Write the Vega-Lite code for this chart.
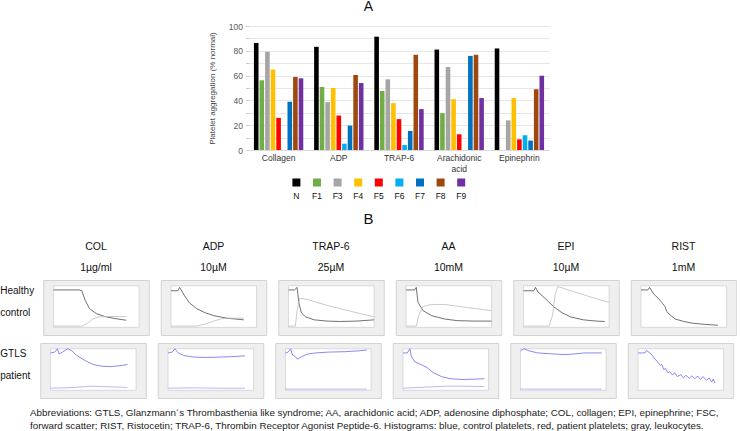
{
  "$schema": "https://vega.github.io/schema/vega-lite/v6.json",
  "padding": 0,
  "background": "white",
  "config": {"view": {"stroke": null}, "font": "Liberation Sans", "title": {"font": "Liberation Sans"}},
  "datasets": {
    "bars": [
      {"agonist": "Collagen", "series": "N", "value": 86.2},
      {"agonist": "Collagen", "series": "F1", "value": 56.2},
      {"agonist": "Collagen", "series": "F3", "value": 79.2},
      {"agonist": "Collagen", "series": "F4", "value": 64.9},
      {"agonist": "Collagen", "series": "F5", "value": 25.9},
      {"agonist": "Collagen", "series": "F6", "value": 0},
      {"agonist": "Collagen", "series": "F7", "value": 38.9},
      {"agonist": "Collagen", "series": "F8", "value": 58.9},
      {"agonist": "Collagen", "series": "F9", "value": 57.8},
      {"agonist": "ADP", "series": "N", "value": 83.2},
      {"agonist": "ADP", "series": "F1", "value": 50.8},
      {"agonist": "ADP", "series": "F3", "value": 38.6},
      {"agonist": "ADP", "series": "F4", "value": 50.0},
      {"agonist": "ADP", "series": "F5", "value": 27.8},
      {"agonist": "ADP", "series": "F6", "value": 5.1},
      {"agonist": "ADP", "series": "F7", "value": 19.7},
      {"agonist": "ADP", "series": "F8", "value": 60.5},
      {"agonist": "ADP", "series": "F9", "value": 54.0},
      {"agonist": "TRAP-6", "series": "N", "value": 91.4},
      {"agonist": "TRAP-6", "series": "F1", "value": 47.6},
      {"agonist": "TRAP-6", "series": "F3", "value": 57.0},
      {"agonist": "TRAP-6", "series": "F4", "value": 37.8},
      {"agonist": "TRAP-6", "series": "F5", "value": 24.9},
      {"agonist": "TRAP-6", "series": "F6", "value": 4.0},
      {"agonist": "TRAP-6", "series": "F7", "value": 15.4},
      {"agonist": "TRAP-6", "series": "F8", "value": 76.8},
      {"agonist": "TRAP-6", "series": "F9", "value": 33.0},
      {"agonist": "Arachidonic acid", "series": "N", "value": 81.0},
      {"agonist": "Arachidonic acid", "series": "F1", "value": 29.7},
      {"agonist": "Arachidonic acid", "series": "F3", "value": 66.9},
      {"agonist": "Arachidonic acid", "series": "F4", "value": 41.0},
      {"agonist": "Arachidonic acid", "series": "F5", "value": 12.7},
      {"agonist": "Arachidonic acid", "series": "F6", "value": 0},
      {"agonist": "Arachidonic acid", "series": "F7", "value": 75.9},
      {"agonist": "Arachidonic acid", "series": "F8", "value": 76.8},
      {"agonist": "Arachidonic acid", "series": "F9", "value": 41.9},
      {"agonist": "Epinephrin", "series": "N", "value": 81.9},
      {"agonist": "Epinephrin", "series": "F1", "value": 0},
      {"agonist": "Epinephrin", "series": "F3", "value": 23.9},
      {"agonist": "Epinephrin", "series": "F4", "value": 41.9},
      {"agonist": "Epinephrin", "series": "F5", "value": 8.6},
      {"agonist": "Epinephrin", "series": "F6", "value": 11.9},
      {"agonist": "Epinephrin", "series": "F7", "value": 7.6},
      {"agonist": "Epinephrin", "series": "F8", "value": 49.0},
      {"agonist": "Epinephrin", "series": "F9", "value": 59.9}
    ],
    "curves": [
      {"a": "COL|1µg/ml", "g": "H", "s": "hm", "t": 0, "v": 0.9},
      {"a": "COL|1µg/ml", "g": "H", "s": "hm", "t": 0.3, "v": 0.9},
      {"a": "COL|1µg/ml", "g": "H", "s": "hm", "t": 0.33, "v": 0.88},
      {"a": "COL|1µg/ml", "g": "H", "s": "hm", "t": 0.37, "v": 0.65},
      {"a": "COL|1µg/ml", "g": "H", "s": "hm", "t": 0.42, "v": 0.45},
      {"a": "COL|1µg/ml", "g": "H", "s": "hm", "t": 0.5, "v": 0.33},
      {"a": "COL|1µg/ml", "g": "H", "s": "hm", "t": 0.6, "v": 0.26},
      {"a": "COL|1µg/ml", "g": "H", "s": "hm", "t": 0.72, "v": 0.21},
      {"a": "COL|1µg/ml", "g": "H", "s": "hm", "t": 0.85, "v": 0.17},
      {"a": "COL|1µg/ml", "g": "H", "s": "hs", "t": 0, "v": 0.03},
      {"a": "COL|1µg/ml", "g": "H", "s": "hs", "t": 0.33, "v": 0.03},
      {"a": "COL|1µg/ml", "g": "H", "s": "hs", "t": 0.4, "v": 0.1},
      {"a": "COL|1µg/ml", "g": "H", "s": "hs", "t": 0.46, "v": 0.2},
      {"a": "COL|1µg/ml", "g": "H", "s": "hs", "t": 0.53, "v": 0.25},
      {"a": "COL|1µg/ml", "g": "H", "s": "hs", "t": 0.65, "v": 0.26},
      {"a": "COL|1µg/ml", "g": "H", "s": "hs", "t": 0.85, "v": 0.26},
      {"a": "ADP|10µM", "g": "H", "s": "hm", "t": 0, "v": 0.88},
      {"a": "ADP|10µM", "g": "H", "s": "hm", "t": 0.08, "v": 0.88},
      {"a": "ADP|10µM", "g": "H", "s": "hm", "t": 0.1, "v": 0.96},
      {"a": "ADP|10µM", "g": "H", "s": "hm", "t": 0.12, "v": 0.9},
      {"a": "ADP|10µM", "g": "H", "s": "hm", "t": 0.16, "v": 0.75},
      {"a": "ADP|10µM", "g": "H", "s": "hm", "t": 0.22, "v": 0.58},
      {"a": "ADP|10µM", "g": "H", "s": "hm", "t": 0.3, "v": 0.45},
      {"a": "ADP|10µM", "g": "H", "s": "hm", "t": 0.4, "v": 0.35},
      {"a": "ADP|10µM", "g": "H", "s": "hm", "t": 0.5, "v": 0.28},
      {"a": "ADP|10µM", "g": "H", "s": "hm", "t": 0.65, "v": 0.22},
      {"a": "ADP|10µM", "g": "H", "s": "hm", "t": 0.85, "v": 0.18},
      {"a": "ADP|10µM", "g": "H", "s": "hs", "t": 0, "v": 0.03},
      {"a": "ADP|10µM", "g": "H", "s": "hs", "t": 0.3, "v": 0.03},
      {"a": "ADP|10µM", "g": "H", "s": "hs", "t": 0.4, "v": 0.08},
      {"a": "ADP|10µM", "g": "H", "s": "hs", "t": 0.5, "v": 0.15},
      {"a": "ADP|10µM", "g": "H", "s": "hs", "t": 0.58, "v": 0.2},
      {"a": "ADP|10µM", "g": "H", "s": "hs", "t": 0.65, "v": 0.22},
      {"a": "ADP|10µM", "g": "H", "s": "hs", "t": 0.85, "v": 0.22},
      {"a": "TRAP-6|25µM", "g": "H", "s": "hm", "t": 0, "v": 0.9},
      {"a": "TRAP-6|25µM", "g": "H", "s": "hm", "t": 0.07, "v": 0.9},
      {"a": "TRAP-6|25µM", "g": "H", "s": "hm", "t": 0.1, "v": 0.96},
      {"a": "TRAP-6|25µM", "g": "H", "s": "hm", "t": 0.12, "v": 0.6},
      {"a": "TRAP-6|25µM", "g": "H", "s": "hm", "t": 0.15, "v": 0.35},
      {"a": "TRAP-6|25µM", "g": "H", "s": "hm", "t": 0.2, "v": 0.25},
      {"a": "TRAP-6|25µM", "g": "H", "s": "hm", "t": 0.3, "v": 0.18},
      {"a": "TRAP-6|25µM", "g": "H", "s": "hm", "t": 0.45, "v": 0.15},
      {"a": "TRAP-6|25µM", "g": "H", "s": "hm", "t": 0.6, "v": 0.14},
      {"a": "TRAP-6|25µM", "g": "H", "s": "hm", "t": 0.8, "v": 0.15},
      {"a": "TRAP-6|25µM", "g": "H", "s": "hm", "t": 1, "v": 0.18},
      {"a": "TRAP-6|25µM", "g": "H", "s": "hs", "t": 0, "v": 0.03},
      {"a": "TRAP-6|25µM", "g": "H", "s": "hs", "t": 0.08, "v": 0.03},
      {"a": "TRAP-6|25µM", "g": "H", "s": "hs", "t": 0.1, "v": 0.4},
      {"a": "TRAP-6|25µM", "g": "H", "s": "hs", "t": 0.13, "v": 0.7},
      {"a": "TRAP-6|25µM", "g": "H", "s": "hs", "t": 0.2, "v": 0.68},
      {"a": "TRAP-6|25µM", "g": "H", "s": "hs", "t": 0.5, "v": 0.5},
      {"a": "TRAP-6|25µM", "g": "H", "s": "hs", "t": 0.8, "v": 0.35},
      {"a": "TRAP-6|25µM", "g": "H", "s": "hs", "t": 1, "v": 0.25},
      {"a": "AA|10mM", "g": "H", "s": "hm", "t": 0, "v": 0.9},
      {"a": "AA|10mM", "g": "H", "s": "hm", "t": 0.1, "v": 0.9},
      {"a": "AA|10mM", "g": "H", "s": "hm", "t": 0.12, "v": 0.96},
      {"a": "AA|10mM", "g": "H", "s": "hm", "t": 0.14, "v": 0.6},
      {"a": "AA|10mM", "g": "H", "s": "hm", "t": 0.2, "v": 0.4},
      {"a": "AA|10mM", "g": "H", "s": "hm", "t": 0.3, "v": 0.28},
      {"a": "AA|10mM", "g": "H", "s": "hm", "t": 0.45, "v": 0.2},
      {"a": "AA|10mM", "g": "H", "s": "hm", "t": 0.6, "v": 0.16},
      {"a": "AA|10mM", "g": "H", "s": "hm", "t": 0.8, "v": 0.15},
      {"a": "AA|10mM", "g": "H", "s": "hm", "t": 1, "v": 0.15},
      {"a": "AA|10mM", "g": "H", "s": "hs", "t": 0, "v": 0.03},
      {"a": "AA|10mM", "g": "H", "s": "hs", "t": 0.12, "v": 0.03},
      {"a": "AA|10mM", "g": "H", "s": "hs", "t": 0.15, "v": 0.3},
      {"a": "AA|10mM", "g": "H", "s": "hs", "t": 0.2, "v": 0.5},
      {"a": "AA|10mM", "g": "H", "s": "hs", "t": 0.3, "v": 0.55},
      {"a": "AA|10mM", "g": "H", "s": "hs", "t": 0.45, "v": 0.55},
      {"a": "AA|10mM", "g": "H", "s": "hs", "t": 0.7, "v": 0.48},
      {"a": "AA|10mM", "g": "H", "s": "hs", "t": 1, "v": 0.4},
      {"a": "EPI|10µM", "g": "H", "s": "hm", "t": 0, "v": 0.88},
      {"a": "EPI|10µM", "g": "H", "s": "hm", "t": 0.12, "v": 0.88},
      {"a": "EPI|10µM", "g": "H", "s": "hm", "t": 0.14, "v": 0.96},
      {"a": "EPI|10µM", "g": "H", "s": "hm", "t": 0.17, "v": 0.85},
      {"a": "EPI|10µM", "g": "H", "s": "hm", "t": 0.25, "v": 0.7},
      {"a": "EPI|10µM", "g": "H", "s": "hm", "t": 0.35, "v": 0.5},
      {"a": "EPI|10µM", "g": "H", "s": "hm", "t": 0.45, "v": 0.35},
      {"a": "EPI|10µM", "g": "H", "s": "hm", "t": 0.55, "v": 0.25},
      {"a": "EPI|10µM", "g": "H", "s": "hm", "t": 0.7, "v": 0.18},
      {"a": "EPI|10µM", "g": "H", "s": "hm", "t": 0.85, "v": 0.15},
      {"a": "EPI|10µM", "g": "H", "s": "hm", "t": 0.95, "v": 0.14},
      {"a": "EPI|10µM", "g": "H", "s": "hs", "t": 0, "v": 0.03},
      {"a": "EPI|10µM", "g": "H", "s": "hs", "t": 0.3, "v": 0.03},
      {"a": "EPI|10µM", "g": "H", "s": "hs", "t": 0.34, "v": 0.3},
      {"a": "EPI|10µM", "g": "H", "s": "hs", "t": 0.37, "v": 0.8},
      {"a": "EPI|10µM", "g": "H", "s": "hs", "t": 0.4, "v": 0.98},
      {"a": "EPI|10µM", "g": "H", "s": "hs", "t": 0.6, "v": 0.85},
      {"a": "EPI|10µM", "g": "H", "s": "hs", "t": 0.8, "v": 0.72},
      {"a": "EPI|10µM", "g": "H", "s": "hs", "t": 1, "v": 0.6},
      {"a": "RIST|1mM", "g": "H", "s": "hm", "t": 0, "v": 0.9},
      {"a": "RIST|1mM", "g": "H", "s": "hm", "t": 0.08, "v": 0.9},
      {"a": "RIST|1mM", "g": "H", "s": "hm", "t": 0.1, "v": 0.96},
      {"a": "RIST|1mM", "g": "H", "s": "hm", "t": 0.15, "v": 0.8},
      {"a": "RIST|1mM", "g": "H", "s": "hm", "t": 0.2, "v": 0.7},
      {"a": "RIST|1mM", "g": "H", "s": "hm", "t": 0.25, "v": 0.58},
      {"a": "RIST|1mM", "g": "H", "s": "hm", "t": 0.28, "v": 0.5},
      {"a": "RIST|1mM", "g": "H", "s": "hm", "t": 0.3, "v": 0.38},
      {"a": "RIST|1mM", "g": "H", "s": "hm", "t": 0.35, "v": 0.28},
      {"a": "RIST|1mM", "g": "H", "s": "hm", "t": 0.4, "v": 0.2},
      {"a": "RIST|1mM", "g": "H", "s": "hm", "t": 0.5, "v": 0.14},
      {"a": "RIST|1mM", "g": "H", "s": "hm", "t": 0.6, "v": 0.1},
      {"a": "RIST|1mM", "g": "H", "s": "hm", "t": 0.75, "v": 0.07},
      {"a": "RIST|1mM", "g": "H", "s": "hm", "t": 0.9, "v": 0.05},
      {"a": "COL|1µg/ml", "g": "P", "s": "pm", "t": 0, "v": 0.9},
      {"a": "COL|1µg/ml", "g": "P", "s": "pm", "t": 0.05, "v": 0.92},
      {"a": "COL|1µg/ml", "g": "P", "s": "pm", "t": 0.08, "v": 1.0},
      {"a": "COL|1µg/ml", "g": "P", "s": "pm", "t": 0.1, "v": 0.88},
      {"a": "COL|1µg/ml", "g": "P", "s": "pm", "t": 0.14, "v": 0.92},
      {"a": "COL|1µg/ml", "g": "P", "s": "pm", "t": 0.2, "v": 1.0},
      {"a": "COL|1µg/ml", "g": "P", "s": "pm", "t": 0.25, "v": 0.95},
      {"a": "COL|1µg/ml", "g": "P", "s": "pm", "t": 0.3, "v": 0.85},
      {"a": "COL|1µg/ml", "g": "P", "s": "pm", "t": 0.4, "v": 0.72},
      {"a": "COL|1µg/ml", "g": "P", "s": "pm", "t": 0.5, "v": 0.62},
      {"a": "COL|1µg/ml", "g": "P", "s": "pm", "t": 0.6, "v": 0.58},
      {"a": "COL|1µg/ml", "g": "P", "s": "pm", "t": 0.7, "v": 0.57},
      {"a": "COL|1µg/ml", "g": "P", "s": "pm", "t": 0.8, "v": 0.59},
      {"a": "COL|1µg/ml", "g": "P", "s": "pm", "t": 0.9, "v": 0.62},
      {"a": "COL|1µg/ml", "g": "P", "s": "ps", "t": 0, "v": 0.05},
      {"a": "COL|1µg/ml", "g": "P", "s": "ps", "t": 0.3, "v": 0.07},
      {"a": "COL|1µg/ml", "g": "P", "s": "ps", "t": 0.45, "v": 0.1},
      {"a": "COL|1µg/ml", "g": "P", "s": "ps", "t": 0.6, "v": 0.09},
      {"a": "COL|1µg/ml", "g": "P", "s": "ps", "t": 0.9, "v": 0.07},
      {"a": "ADP|10µM", "g": "P", "s": "pm", "t": 0, "v": 0.9},
      {"a": "ADP|10µM", "g": "P", "s": "pm", "t": 0.05, "v": 0.92},
      {"a": "ADP|10µM", "g": "P", "s": "pm", "t": 0.08, "v": 1.0},
      {"a": "ADP|10µM", "g": "P", "s": "pm", "t": 0.12, "v": 0.9},
      {"a": "ADP|10µM", "g": "P", "s": "pm", "t": 0.18, "v": 0.84},
      {"a": "ADP|10µM", "g": "P", "s": "pm", "t": 0.3, "v": 0.8},
      {"a": "ADP|10µM", "g": "P", "s": "pm", "t": 0.45, "v": 0.79},
      {"a": "ADP|10µM", "g": "P", "s": "pm", "t": 0.6, "v": 0.8},
      {"a": "ADP|10µM", "g": "P", "s": "pm", "t": 0.75, "v": 0.81},
      {"a": "ADP|10µM", "g": "P", "s": "pm", "t": 0.9, "v": 0.83},
      {"a": "ADP|10µM", "g": "P", "s": "ps", "t": 0, "v": 0.05},
      {"a": "ADP|10µM", "g": "P", "s": "ps", "t": 0.3, "v": 0.06},
      {"a": "ADP|10µM", "g": "P", "s": "ps", "t": 0.6, "v": 0.05},
      {"a": "ADP|10µM", "g": "P", "s": "ps", "t": 0.9, "v": 0.05},
      {"a": "TRAP-6|25µM", "g": "P", "s": "pm", "t": 0, "v": 0.9},
      {"a": "TRAP-6|25µM", "g": "P", "s": "pm", "t": 0.03, "v": 0.92},
      {"a": "TRAP-6|25µM", "g": "P", "s": "pm", "t": 0.06, "v": 1.0},
      {"a": "TRAP-6|25µM", "g": "P", "s": "pm", "t": 0.08, "v": 0.85},
      {"a": "TRAP-6|25µM", "g": "P", "s": "pm", "t": 0.11, "v": 0.82},
      {"a": "TRAP-6|25µM", "g": "P", "s": "pm", "t": 0.14, "v": 0.75},
      {"a": "TRAP-6|25µM", "g": "P", "s": "pm", "t": 0.18, "v": 0.8},
      {"a": "TRAP-6|25µM", "g": "P", "s": "pm", "t": 0.25, "v": 0.87},
      {"a": "TRAP-6|25µM", "g": "P", "s": "pm", "t": 0.35, "v": 0.9},
      {"a": "TRAP-6|25µM", "g": "P", "s": "pm", "t": 0.5, "v": 0.92},
      {"a": "TRAP-6|25µM", "g": "P", "s": "pm", "t": 0.7, "v": 0.93},
      {"a": "TRAP-6|25µM", "g": "P", "s": "pm", "t": 0.85, "v": 0.95},
      {"a": "TRAP-6|25µM", "g": "P", "s": "pm", "t": 0.95, "v": 0.97},
      {"a": "TRAP-6|25µM", "g": "P", "s": "ps", "t": 0, "v": 0.03},
      {"a": "TRAP-6|25µM", "g": "P", "s": "ps", "t": 0.5, "v": 0.03},
      {"a": "TRAP-6|25µM", "g": "P", "s": "ps", "t": 0.95, "v": 0.03},
      {"a": "AA|10mM", "g": "P", "s": "pm", "t": 0, "v": 0.9},
      {"a": "AA|10mM", "g": "P", "s": "pm", "t": 0.05, "v": 0.9},
      {"a": "AA|10mM", "g": "P", "s": "pm", "t": 0.08, "v": 1.0},
      {"a": "AA|10mM", "g": "P", "s": "pm", "t": 0.1, "v": 0.8},
      {"a": "AA|10mM", "g": "P", "s": "pm", "t": 0.14, "v": 0.68},
      {"a": "AA|10mM", "g": "P", "s": "pm", "t": 0.2, "v": 0.63},
      {"a": "AA|10mM", "g": "P", "s": "pm", "t": 0.28, "v": 0.55},
      {"a": "AA|10mM", "g": "P", "s": "pm", "t": 0.35, "v": 0.43},
      {"a": "AA|10mM", "g": "P", "s": "pm", "t": 0.45, "v": 0.33},
      {"a": "AA|10mM", "g": "P", "s": "pm", "t": 0.55, "v": 0.28},
      {"a": "AA|10mM", "g": "P", "s": "pm", "t": 0.7, "v": 0.26},
      {"a": "AA|10mM", "g": "P", "s": "pm", "t": 0.85, "v": 0.27},
      {"a": "AA|10mM", "g": "P", "s": "pm", "t": 0.95, "v": 0.28},
      {"a": "AA|10mM", "g": "P", "s": "ps", "t": 0, "v": 0.05},
      {"a": "AA|10mM", "g": "P", "s": "ps", "t": 0.3, "v": 0.08},
      {"a": "AA|10mM", "g": "P", "s": "ps", "t": 0.5, "v": 0.1},
      {"a": "AA|10mM", "g": "P", "s": "ps", "t": 0.7, "v": 0.1},
      {"a": "AA|10mM", "g": "P", "s": "ps", "t": 0.95, "v": 0.09},
      {"a": "EPI|10µM", "g": "P", "s": "pm", "t": 0, "v": 0.95},
      {"a": "EPI|10µM", "g": "P", "s": "pm", "t": 0.04, "v": 1.0},
      {"a": "EPI|10µM", "g": "P", "s": "pm", "t": 0.1, "v": 0.95},
      {"a": "EPI|10µM", "g": "P", "s": "pm", "t": 0.2, "v": 0.9},
      {"a": "EPI|10µM", "g": "P", "s": "pm", "t": 0.35, "v": 0.88},
      {"a": "EPI|10µM", "g": "P", "s": "pm", "t": 0.5, "v": 0.86},
      {"a": "EPI|10µM", "g": "P", "s": "pm", "t": 0.6, "v": 0.87},
      {"a": "EPI|10µM", "g": "P", "s": "pm", "t": 0.75, "v": 0.9},
      {"a": "EPI|10µM", "g": "P", "s": "pm", "t": 0.95, "v": 0.9},
      {"a": "EPI|10µM", "g": "P", "s": "ps", "t": 0, "v": 0.03},
      {"a": "EPI|10µM", "g": "P", "s": "ps", "t": 0.5, "v": 0.03},
      {"a": "EPI|10µM", "g": "P", "s": "ps", "t": 0.95, "v": 0.03},
      {"a": "RIST|1mM", "g": "P", "s": "pm", "t": 0, "v": 0.9},
      {"a": "RIST|1mM", "g": "P", "s": "pm", "t": 0.08, "v": 0.9},
      {"a": "RIST|1mM", "g": "P", "s": "pm", "t": 0.1, "v": 0.96},
      {"a": "RIST|1mM", "g": "P", "s": "pm", "t": 0.15, "v": 0.88},
      {"a": "RIST|1mM", "g": "P", "s": "pm", "t": 0.2, "v": 0.75},
      {"a": "RIST|1mM", "g": "P", "s": "pm", "t": 0.23, "v": 0.68},
      {"a": "RIST|1mM", "g": "P", "s": "pm", "t": 0.26, "v": 0.6},
      {"a": "RIST|1mM", "g": "P", "s": "pm", "t": 0.28, "v": 0.62},
      {"a": "RIST|1mM", "g": "P", "s": "pm", "t": 0.3, "v": 0.5},
      {"a": "RIST|1mM", "g": "P", "s": "pm", "t": 0.32, "v": 0.53},
      {"a": "RIST|1mM", "g": "P", "s": "pm", "t": 0.35, "v": 0.42},
      {"a": "RIST|1mM", "g": "P", "s": "pm", "t": 0.37, "v": 0.45},
      {"a": "RIST|1mM", "g": "P", "s": "pm", "t": 0.4, "v": 0.37},
      {"a": "RIST|1mM", "g": "P", "s": "pm", "t": 0.43, "v": 0.42},
      {"a": "RIST|1mM", "g": "P", "s": "pm", "t": 0.46, "v": 0.33},
      {"a": "RIST|1mM", "g": "P", "s": "pm", "t": 0.5, "v": 0.38},
      {"a": "RIST|1mM", "g": "P", "s": "pm", "t": 0.53, "v": 0.3},
      {"a": "RIST|1mM", "g": "P", "s": "pm", "t": 0.56, "v": 0.36},
      {"a": "RIST|1mM", "g": "P", "s": "pm", "t": 0.6, "v": 0.29},
      {"a": "RIST|1mM", "g": "P", "s": "pm", "t": 0.63, "v": 0.35},
      {"a": "RIST|1mM", "g": "P", "s": "pm", "t": 0.66, "v": 0.28},
      {"a": "RIST|1mM", "g": "P", "s": "pm", "t": 0.7, "v": 0.34},
      {"a": "RIST|1mM", "g": "P", "s": "pm", "t": 0.73, "v": 0.26},
      {"a": "RIST|1mM", "g": "P", "s": "pm", "t": 0.76, "v": 0.33},
      {"a": "RIST|1mM", "g": "P", "s": "pm", "t": 0.8, "v": 0.24},
      {"a": "RIST|1mM", "g": "P", "s": "pm", "t": 0.83, "v": 0.3},
      {"a": "RIST|1mM", "g": "P", "s": "pm", "t": 0.86, "v": 0.2},
      {"a": "RIST|1mM", "g": "P", "s": "pm", "t": 0.88, "v": 0.27},
      {"a": "RIST|1mM", "g": "P", "s": "pm", "t": 0.9, "v": 0.18}
    ]
  },
  "title": {
    "text": [
      "Abbreviations: GTLS, Glanzmann´s Thrombasthenia like syndrome; AA, arachidonic acid; ADP, adenosine diphosphate; COL, collagen; EPI, epinephrine; FSC,",
      "forward scatter; RIST, Ristocetin; TRAP-6, Thrombin Receptor Agonist Peptide-6. Histograms: blue, control platelets, red, patient platelets; gray, leukocytes."
    ],
    "orient": "bottom",
    "anchor": "start",
    "dx": 30,
    "fontSize": 9.8,
    "fontWeight": "normal",
    "lineHeight": 13,
    "offset": 9,
    "color": "#1a1a1a"
  },
  "spacing": 11,
  "center": true,
  "vconcat": [
    {
      "title": {"text": "A", "fontSize": 14, "fontWeight": "normal", "offset": 8, "color": "#111", "anchor": "middle"},
      "spacing": 4.5,
      "center": true,
      "vconcat": [
        {
          "spacing": 0,
          "hconcat": [
            {
              "data": {"values": []},
              "width": 20,
              "height": 124,
              "mark": {"type": "point", "opacity": 0}
            },
            {
              "data": {"name": "bars"},
              "width": 301,
              "height": 124,
              "mark": {"type": "bar"},
              "encoding": {
                "x": {
                  "field": "agonist", "type": "nominal",
                  "sort": ["Collagen", "ADP", "TRAP-6", "Arachidonic acid", "Epinephrin"],
                  "scale": {"paddingInner": 0.18, "paddingOuter": 0.09},
                  "axis": {
                    "title": null, "labelAngle": 0, "ticks": false,
                    "labelExpr": "datum.label == 'Arachidonic acid' ? ['Arachidonic', 'acid'] : datum.label",
                    "labelFontSize": 8.5, "labelColor": "#333", "labelLineHeight": 10.5,
                    "labelPadding": 3.5, "domainColor": "#d9d9d9"
                  }
                },
                "xOffset": {
                  "field": "series", "type": "nominal",
                  "sort": ["N", "F1", "F3", "F4", "F5", "F6", "F7", "F8", "F9"],
                  "scale": {"paddingInner": 0.18}
                },
                "y": {
                  "field": "value", "type": "quantitative",
                  "scale": {"domain": [0, 100], "nice": false},
                  "axis": {
                    "values": [0, 10, 20, 30, 40, 50, 60, 70, 80, 90, 100],
                    "labelExpr": "datum.value % 20 == 0 ? datum.label : ''",
                    "title": "Platelet aggregation (% normal)",
                    "titleFontSize": 8, "titleFontWeight": "normal", "titleColor": "#444",
                    "titlePadding": 12,
                    "labelColor": "#595959", "labelFontSize": 8.5, "labelPadding": 3,
                    "gridColor": "#e6e6e6", "domain": false,
                    "tickColor": "#cccccc", "tickSize": 3
                  }
                },
                "color": {
                  "field": "series", "type": "nominal",
                  "scale": {
                    "domain": ["N", "F1", "F3", "F4", "F5", "F6", "F7", "F8", "F9"],
                    "range": ["#000000", "#70ad47", "#a5a5a5", "#ffc000", "#ff0000", "#00b0f0", "#0070c0", "#9e480e", "#7030a0"]
                  },
                  "legend": null
                }
              }
            }
          ]
        },
        {
          "data": {"name": "bars"},
          "transform": [{"filter": "datum.agonist == 'Collagen'"}],
          "width": 206,
          "height": 10,
          "layer": [
            {
              "mark": {"type": "square", "size": 64, "filled": true, "opacity": 1},
              "encoding": {
                "x": {"field": "series", "type": "nominal", "axis": null,
                      "scale": {"domain": ["_", "N", "F1", "F3", "F4", "F5", "F6", "F7", "F8", "F9"]}},
                "color": {
                  "field": "series", "type": "nominal",
                  "scale": {
                    "domain": ["N", "F1", "F3", "F4", "F5", "F6", "F7", "F8", "F9"],
                    "range": ["#000000", "#70ad47", "#a5a5a5", "#ffc000", "#ff0000", "#00b0f0", "#0070c0", "#9e480e", "#7030a0"]
                  },
                  "legend": null
                }
              }
            },
            {
              "mark": {"type": "text", "dy": 13, "fontSize": 8.5, "color": "#111", "baseline": "middle"},
              "encoding": {
                "x": {"field": "series", "type": "nominal", "axis": null,
                      "scale": {"domain": ["_", "N", "F1", "F3", "F4", "F5", "F6", "F7", "F8", "F9"]}},
                "text": {"field": "series"}
              }
            }
          ]
        }
      ]
    },
    {
      "title": {"text": "B", "fontSize": 15, "fontWeight": "normal", "offset": 15, "color": "#111", "anchor": "middle"},
      "spacing": 6,
      "vconcat": [
        {
          "spacing": 8,
          "hconcat": [
            {
              "title": {"text": [" ", " "], "fontSize": 10.5, "lineHeight": 21, "offset": -4},
              "data": {"values": [{"label": ["Healthy", "control"]}]},
              "width": 30,
              "height": 55,
              "mark": {"type": "text", "align": "left", "baseline": "line-top", "lineHeight": 22, "fontSize": 10, "color": "#111"},
              "encoding": {
                "x": {"datum": 0, "type": "quantitative", "scale": {"domain": [0, 1]}, "axis": null},
                "y": {"datum": 1, "type": "quantitative", "scale": {"domain": [0, 1]}, "axis": null},
                "text": {"field": "label"}
              }
            },
            {
              "data": {"name": "curves"},
              "transform": [{"filter": "datum.g == 'H'"}],
              "facet": {
                "column": {
                  "field": "a", "type": "nominal",
                  "sort": ["COL|1µg/ml", "ADP|10µM", "TRAP-6|25µM", "AA|10mM", "EPI|10µM", "RIST|1mM"],
                  "header": {
                    "title": null, "labelExpr": "split(datum.label, '|')",
                    "labelFontSize": 10.5, "labelLineHeight": 21, "labelPadding": -4,
                    "labelColor": "#111", "labelBaseline": "bottom"
                  }
                }
              },
              "spacing": 10.5,
              "spec": {
                "width": 105.5,
                "height": 55,
                "view": {"fill": "#efefef", "stroke": "#d3d3d3"},
                "layer": [
                  {
                    "transform": [{"filter": "datum.t == 0 && datum.s == 'hm'"}],
                    "mark": {"type": "rect", "fill": "white", "stroke": "#c6c6c6", "strokeWidth": 0.6},
                    "encoding": {
                      "x": {"datum": 0, "type": "quantitative", "scale": {"domain": [-0.12, 1.113], "nice": false, "zero": false}, "axis": null},
                      "x2": {"datum": 1},
                      "y": {"datum": 0, "type": "quantitative", "scale": {"domain": [-0.185, 1.139], "nice": false, "zero": false}, "axis": null},
                      "y2": {"datum": 1}
                    }
                  },
                  {
                    "mark": {"type": "line", "strokeWidth": 0.8},
                    "encoding": {
                      "x": {"field": "t", "type": "quantitative", "scale": {"domain": [-0.12, 1.113], "nice": false, "zero": false}, "axis": null},
                      "y": {"field": "v", "type": "quantitative", "scale": {"domain": [-0.185, 1.139], "nice": false, "zero": false}, "axis": null},
                      "stroke": {
                        "field": "s", "type": "nominal",
                        "scale": {"domain": ["hm", "hs", "pm", "ps"], "range": ["#4d4d4d", "#bdbdbd", "#6b6bf0", "#a8a8f6"]},
                        "legend": null
                      }
                    }
                  }
                ]
              }
            }
          ]
        },
        {
          "spacing": 8,
          "hconcat": [
            {
              "data": {"values": [{"label": ["GTLS", "patient"]}]},
              "width": 30,
              "height": 55,
              "mark": {"type": "text", "align": "left", "baseline": "line-top", "lineHeight": 22, "fontSize": 10, "color": "#111"},
              "encoding": {
                "x": {"datum": 0, "type": "quantitative", "scale": {"domain": [0, 1]}, "axis": null},
                "y": {"datum": 1, "type": "quantitative", "scale": {"domain": [0, 1]}, "axis": null},
                "text": {"field": "label"}
              }
            },
            {
              "data": {"name": "curves"},
              "transform": [{"filter": "datum.g == 'P'"}],
              "facet": {
                "column": {
                  "field": "a", "type": "nominal",
                  "sort": ["COL|1µg/ml", "ADP|10µM", "TRAP-6|25µM", "AA|10mM", "EPI|10µM", "RIST|1mM"],
                  "header": {"title": null, "labels": false}
                }
              },
              "spacing": 10.5,
              "spec": {
                "width": 105.5,
                "height": 55,
                "view": {"fill": "#efefef", "stroke": "#d3d3d3"},
                "layer": [
                  {
                    "transform": [{"filter": "datum.t == 0 && datum.s == 'pm'"}],
                    "mark": {"type": "rect", "fill": "white", "stroke": "#c6c6c6", "strokeWidth": 0.6},
                    "encoding": {
                      "x": {"datum": 0, "type": "quantitative", "scale": {"domain": [-0.12, 1.113], "nice": false, "zero": false}, "axis": null},
                      "x2": {"datum": 1},
                      "y": {"datum": 0, "type": "quantitative", "scale": {"domain": [-0.185, 1.139], "nice": false, "zero": false}, "axis": null},
                      "y2": {"datum": 1}
                    }
                  },
                  {
                    "mark": {"type": "line", "strokeWidth": 0.8},
                    "encoding": {
                      "x": {"field": "t", "type": "quantitative", "scale": {"domain": [-0.12, 1.113], "nice": false, "zero": false}, "axis": null},
                      "y": {"field": "v", "type": "quantitative", "scale": {"domain": [-0.185, 1.139], "nice": false, "zero": false}, "axis": null},
                      "stroke": {
                        "field": "s", "type": "nominal",
                        "scale": {"domain": ["hm", "hs", "pm", "ps"], "range": ["#4d4d4d", "#bdbdbd", "#6b6bf0", "#a8a8f6"]},
                        "legend": null
                      }
                    }
                  }
                ]
              }
            }
          ]
        }
      ]
    }
  ]
}
